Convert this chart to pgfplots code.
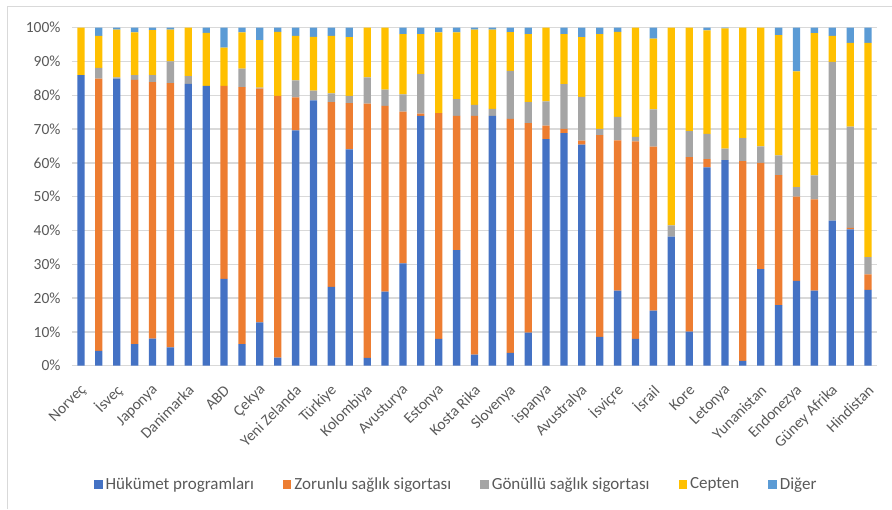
\documentclass[border=0pt]{standalone}
\usepackage{fontspec}
\setmainfont{Carlito}
\usepackage{pgfplots}
\usepackage{pgfplotstable}
\pgfplotsset{compat=1.18}
\definecolor{cgov}{HTML}{4472C4}
\definecolor{ccomp}{HTML}{ED7D31}
\definecolor{cvol}{HTML}{A5A5A5}
\definecolor{coop}{HTML}{FFC000}
\definecolor{coth}{HTML}{5B9BD5}
\definecolor{gridc}{HTML}{D9D9D9}
\definecolor{textc}{HTML}{595959}
\pgfplotstableread{
x gov comp vol oop oth
1 86.0 0 0 14.0 0
2 4.4 80.5 3.2 9.5 2.4
3 84.9 0 0.4 14.1 0.6
4 6.4 78.2 1.4 12.6 1.4
5 8.0 75.9 2.1 13.3 0.7
6 5.4 78.2 6.4 9.4 0.6
7 83.4 0 2.3 14.3 0
8 82.8 0 0 15.7 1.5
9 25.7 57.1 0 11.3 5.9
10 6.4 76.0 5.5 10.7 1.4
11 12.8 69.2 0.3 14.0 3.7
12 2.4 77.4 0 19.0 1.2
13 69.6 9.8 5.0 13.2 2.4
14 78.5 0 2.9 15.9 2.7
15 23.3 54.7 2.6 17.0 2.4
16 64.0 13.7 2.1 17.4 2.8
17 2.3 75.2 7.8 14.7 0
18 21.9 55.0 4.8 18.3 0
19 30.3 44.9 5.1 17.8 1.9
20 73.9 0.7 11.7 11.8 1.9
21 7.9 66.8 0 23.9 1.4
22 34.2 39.7 5.0 19.7 1.4
23 3.3 70.6 3.3 22.2 0.6
24 73.9 0 2.1 23.4 0.6
25 3.8 69.2 14.2 11.5 1.3
26 9.8 62.0 6.2 20.1 1.9
27 67.0 4.0 7.2 21.8 0
28 68.8 1.3 13.2 14.8 1.9
29 65.4 1.2 12.9 17.7 2.8
30 8.5 59.7 1.9 28.0 1.9
31 22.2 44.5 6.9 25.2 1.2
32 7.9 58.5 1.3 32.3 0
33 16.3 48.5 11.0 21.0 3.2
34 38.2 0 3.3 58.5 0
35 10.1 51.6 7.7 30.6 0
36 58.7 2.4 7.5 30.6 0.8
37 60.8 0 3.4 35.6 0.2
38 1.4 59.1 6.8 32.7 0
39 28.6 31.4 4.9 35.1 0
40 17.9 38.5 5.8 35.6 2.2
41 25.1 24.9 2.8 34.3 12.9
42 22.2 27.0 7.1 42.1 1.6
43 42.9 0 47.0 7.7 2.4
44 40.3 0.5 29.9 24.8 4.5
45 22.4 4.6 5.1 63.4 4.5
}\datatable
\begin{document}
\begin{tikzpicture}[x=1pt,y=1pt]
\useasboundingbox (0,0) rectangle (892,509);
\draw[color=gridc, line width=1pt] (7,0) -- (7,502) -- (892,502);
\begin{axis}[
  at={(72pt,143.3pt)}, anchor=south west,
  scale only axis, width=805pt, height=338pt,
  ybar stacked, bar width=7.3pt,
  xmin=0.5, xmax=45.5, ymin=0, ymax=100,
  xtick={1,3,...,45},
  xticklabels={Norveç,İsveç,Japonya,Danimarka,ABD,Çekya,Yeni Zelanda,Türkiye,Kolombiya,Avusturya,Estonya,Kosta Rika,Slovenya,ispanya,Avustralya,İsviçre,İsrail,Kore,Letonya,Yunanistan,Endonezya,Güney Afrika,Hindistan},
  ytick={0,10,...,100},
  yticklabel={\pgfmathprintnumber{\tick}\%},
  /pgf/number format/assume math mode=true,
  ymajorgrids, grid style={color=gridc, line width=1.3pt},
  axis line style={draw=none},
  major tick length=0pt,
  tick label style={font=\fontsize{15.5}{18}\selectfont, text=textc},
  yticklabel style={xshift=-8pt},
  xticklabel style={yshift=-22pt, xshift=3pt, rotate=45, anchor=east, inner sep=0pt},
  legend columns=5,
  legend style={at={(0.478,-0.35)}, anchor=center, draw=none, fill=none,
    font=\fontsize{17}{20}\selectfont, text=textc,
    /tikz/every even column/.append style={column sep=26pt},
    nodes={inner xsep=3pt}},
  legend image code/.code={\fill[#1] (0pt,-4.5pt) rectangle (8.5pt,4pt);},
]
\addplot[fill=cgov, draw=none] table[x=x,y=gov]{\datatable};
\addplot[fill=ccomp, draw=none] table[x=x,y=comp]{\datatable};
\addplot[fill=cvol, draw=none] table[x=x,y=vol]{\datatable};
\addplot[fill=coop, draw=none] table[x=x,y=oop]{\datatable};
\addplot[fill=coth, draw=none] table[x=x,y=oth]{\datatable};
\legend{Hükümet programları,Zorunlu sağlık sigortası,Gönüllü sağlık sigortası,Cepten,Diğer}
\end{axis}
\end{tikzpicture}
\end{document}
